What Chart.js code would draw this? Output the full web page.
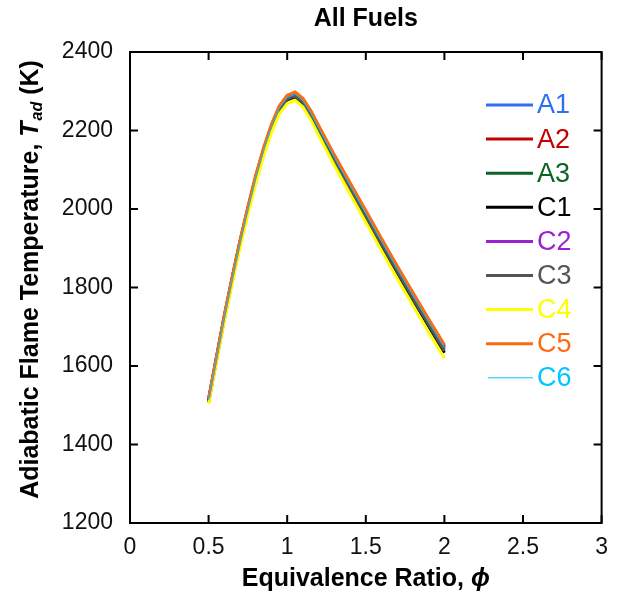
<!DOCTYPE html>
<html>
<head>
<meta charset="utf-8">
<script src="https://cdn.jsdelivr.net/npm/chart.js@4.4.1/dist/chart.umd.min.js"></script>
<style>
  html, body { margin: 0; padding: 0; background: #fff; }
  #wrap { width: 619px; height: 598px; position: relative; }
</style>
</head>
<body>
<div id="wrap"><canvas id="c" width="619" height="598"></canvas></div>
<script>
// ---- data ----
const phi = [0.5,0.55,0.6,0.65,0.7,0.75,0.8,0.85,0.9,0.95,1.0,1.05,1.1,1.15,1.2,1.3,1.4,1.5,1.6,1.7,1.8,1.9,2.0];
const A1 = [1513,1620,1725,1822,1915,2000,2080,2150,2210,2257,2284,2292,2276,2244,2206,2131,2059,1988,1917,1847,1779,1712,1646];
const A2 = [1515,1622,1728,1825,1918,2003,2083,2153,2213,2260,2287,2295,2279,2248,2210,2135,2064,1993,1922,1852,1784,1717,1651];
const A3 = [1511,1618,1723,1820,1913,1998,2078,2148,2208,2255,2282,2290,2274,2242,2204,2128,2056,1985,1914,1844,1776,1709,1643];
const C1 = [1508,1615,1720,1816,1909,1994,2074,2144,2204,2251,2278,2286,2269,2237,2199,2123,2050,1979,1907,1837,1768,1701,1634];
const C2 = [1514,1621,1727,1824,1917,2002,2082,2152,2212,2259,2286,2294,2278,2246,2208,2133,2062,1991,1920,1850,1782,1715,1649];
const C3 = [1510,1617,1722,1818,1911,1996,2076,2146,2206,2253,2280,2288,2271,2239,2201,2126,2053,1982,1911,1841,1772,1705,1638];
const C4 = [1503,1610,1714,1810,1902,1986,2065,2135,2195,2242,2269,2277,2260,2227,2188,2111,2038,1966,1894,1823,1754,1686,1620];
const C5 = [1517,1624,1730,1827,1920,2006,2086,2156,2216,2263,2290,2298,2282,2251,2213,2138,2067,1996,1925,1855,1787,1720,1654];
const C6 = [1513,1620,1725,1822,1915,2000,2080,2150,2210,2257,2284,2292,2276,2244,2206,2131,2059,1988,1917,1847,1779,1712,1646];

const seriesNames = ['A1','A2','A3','C1','C2','C3','C4','C5','C6'];
const seriesValues = [A1,A2,A3,C1,C2,C3,C4,C5,C6];
const seriesColors = ['#2f6ff3','#c40000','#0b6424','#000000','#9b22d4','#555555','#ffff00','#ff6a10','#00c6ff'];
const seriesWidths = [3,3,3,3,3,3,3,3,1];

const xTicks = [0,0.5,1,1.5,2,2.5,3];
const xTickLabels = ['0','0.5','1','1.5','2','2.5','3'];
const yTicks = [1200,1400,1600,1800,2000,2200,2400];
const yTickLabels = ['1200','1400','1600','1800','2000','2200','2400'];

const FONT = '"Liberation Sans", Arial, Helvetica, sans-serif';

const datasets = seriesNames.map((n, i) => ({
  label: n,
  data: phi.map((p, j) => ({x: p, y: seriesValues[i][j]})),
  borderColor: seriesColors[i],
  backgroundColor: seriesColors[i],
  borderWidth: seriesWidths[i],
  pointRadius: 0,
  tension: 0,
  fill: false,
  order: seriesNames.length - i
}));

const decor = {
  id: 'decor',
  afterDraw(chart) {
    const ctx = chart.ctx;
    const a = chart.chartArea;
    const xs = chart.scales.x, ys = chart.scales.y;
    ctx.save();
    // box
    ctx.strokeStyle = '#000';
    ctx.lineWidth = 2;
    ctx.strokeRect(a.left, a.top, a.right - a.left, a.bottom - a.top);
    // inward ticks
    const tl = 8;
    ctx.beginPath();
    xTicks.forEach(v => {
      const px = xs.getPixelForValue(v);
      ctx.moveTo(px, a.bottom); ctx.lineTo(px, a.bottom - tl);
      ctx.moveTo(px, a.top); ctx.lineTo(px, a.top + tl);
    });
    yTicks.forEach(v => {
      const py = ys.getPixelForValue(v);
      ctx.moveTo(a.left, py); ctx.lineTo(a.left + tl, py);
      ctx.moveTo(a.right, py); ctx.lineTo(a.right - tl, py);
    });
    ctx.stroke();

    // title
    ctx.fillStyle = '#000';
    ctx.textAlign = 'center';
    ctx.textBaseline = 'middle';
    ctx.font = 'bold 25px ' + FONT;
    ctx.fillText('All Fuels', (a.left + a.right) / 2, 19);

    // x title
    const xt1 = 'Equivalence Ratio, ';
    ctx.font = 'bold 25px ' + FONT;
    const w1 = ctx.measureText(xt1).width;
    ctx.font = 'italic bold 25px ' + FONT;
    const w2 = ctx.measureText('\u03d5').width;
    let sx = (a.left + a.right) / 2 - (w1 + w2) / 2;
    ctx.textAlign = 'left';
    ctx.font = 'bold 25px ' + FONT;
    ctx.fillText(xt1, sx, 579);
    ctx.font = 'italic bold 25px ' + FONT;
    ctx.fillText('\u03d5', sx + w1, 579);

    // y title (rotated)
    ctx.save();
    ctx.translate(31, 280);
    ctx.rotate(-Math.PI / 2);
    const p1 = 'Adiabatic Flame Temperature, ';
    const p2 = 'T';
    const p3 = 'ad';
    const p4 = ' (K)';
    ctx.font = 'bold 25px ' + FONT;
    const q1 = ctx.measureText(p1).width;
    const q4 = ctx.measureText(p4).width;
    ctx.font = 'italic bold 25px ' + FONT;
    const q2 = ctx.measureText(p2).width;
    ctx.font = 'italic bold 16px ' + FONT;
    const q3 = ctx.measureText(p3).width;
    const total = q1 + q2 + q3 + q4;
    let cx = -total / 2;
    ctx.textAlign = 'left';
    ctx.textBaseline = 'middle';
    ctx.font = 'bold 25px ' + FONT;
    ctx.fillText(p1, cx, 0); cx += q1;
    ctx.font = 'italic bold 25px ' + FONT;
    ctx.fillText(p2, cx, 0); cx += q2;
    ctx.font = 'italic bold 16px ' + FONT;
    ctx.fillText(p3, cx + 1, 7); cx += q3 + 1;
    ctx.font = 'bold 25px ' + FONT;
    ctx.fillText(p4, cx, 0);
    ctx.restore();

    // legend
    const lx0 = 486, lx1 = 533, tx = 537, ly0 = 105, dy = 34.1;
    ctx.textAlign = 'left';
    ctx.textBaseline = 'middle';
    ctx.font = '27px ' + FONT;
    seriesNames.forEach((n, i) => {
      const y = ly0 + i * dy;
      ctx.strokeStyle = seriesColors[i];
      ctx.lineWidth = seriesWidths[i];
      ctx.beginPath();
      ctx.moveTo(i === 8 ? 488 : lx0, y);
      ctx.lineTo(lx1, y);
      ctx.stroke();
      ctx.fillStyle = seriesColors[i];
      ctx.fillText(n, tx, y + 1);
    });
    ctx.restore();
  }
};

new Chart(document.getElementById('c'), {
  type: 'line',
  data: { datasets },
  options: {
    responsive: false,
    animation: false,
    devicePixelRatio: 1,
    layout: { padding: { top: 52, right: 17, left: 0, bottom: 0 } },
    plugins: { legend: { display: false }, title: { display: false }, tooltip: { enabled: false } },
    scales: {
      x: {
        type: 'linear', min: 0, max: 3,
        afterBuildTicks: s => { s.ticks = xTicks.map(v => ({ value: v })); },
        afterFit: s => { s.height = 75; },
        grid: { display: false, drawTicks: false },
        border: { display: false },
        ticks: {
          callback: (v) => xTickLabels[xTicks.indexOf(v)],
          font: { family: FONT, size: 23 }, color: '#111', padding: 11, maxRotation: 0, autoSkip: false
        }
      },
      y: {
        type: 'linear', min: 1200, max: 2400,
        afterBuildTicks: s => { s.ticks = yTicks.map(v => ({ value: v })); },
        afterFit: s => { s.width = 130; },
        grid: { display: false, drawTicks: false },
        border: { display: false },
        ticks: {
          callback: (v) => yTickLabels[yTicks.indexOf(v)],
          font: { family: FONT, size: 23 }, color: '#111', padding: 17, autoSkip: false
        }
      }
    }
  },
  plugins: [decor]
});
</script>
</body>
</html>
